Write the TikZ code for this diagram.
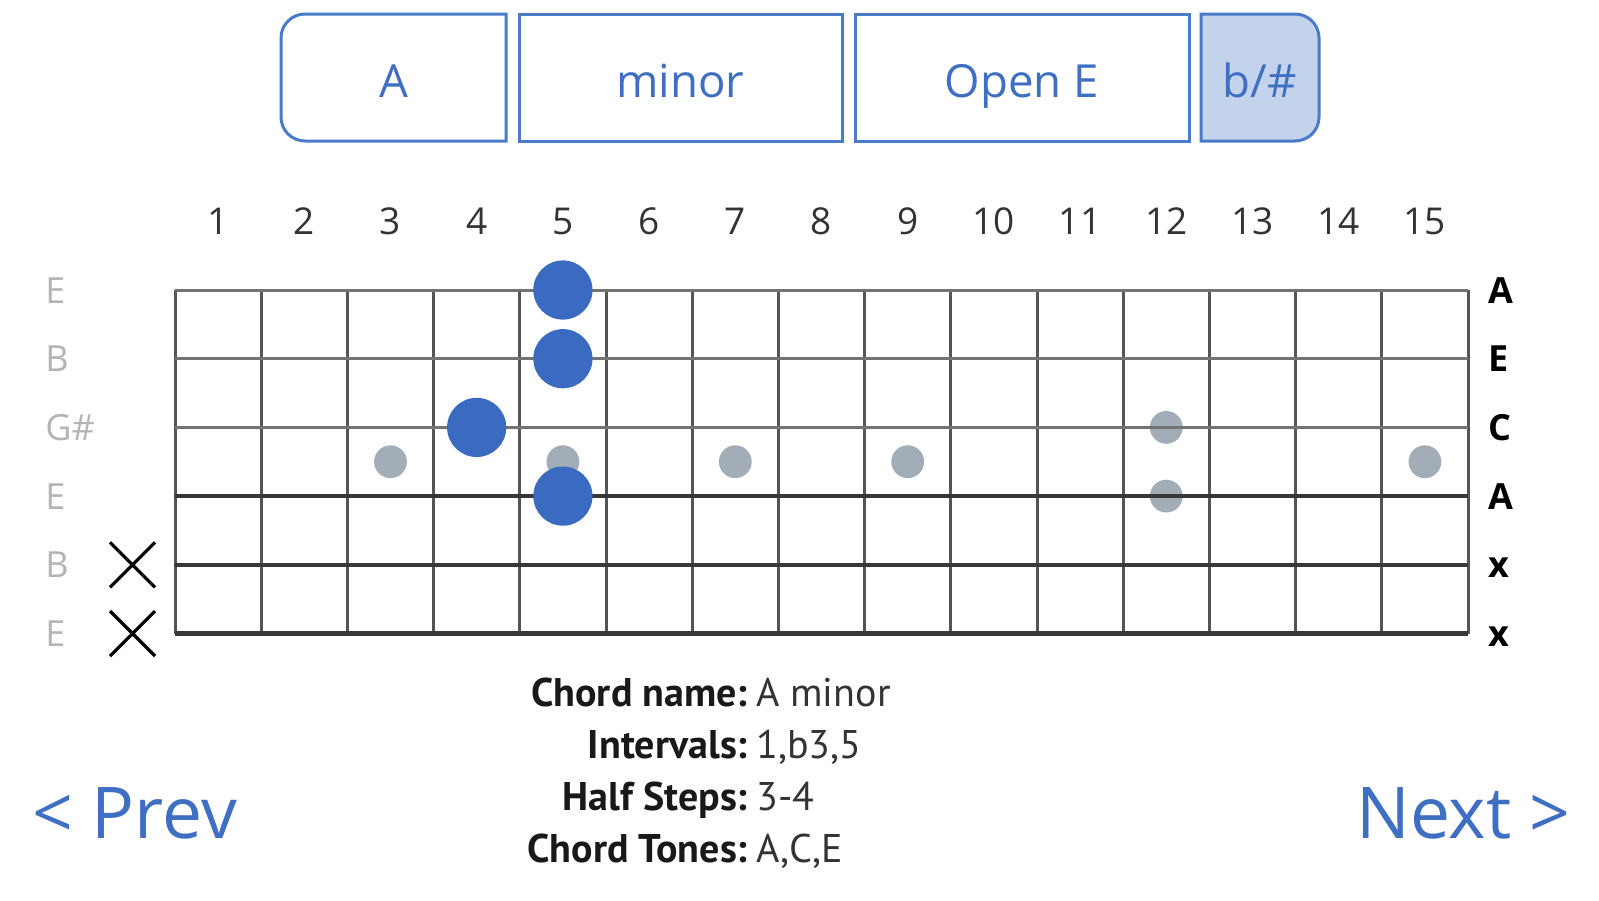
\documentclass[tikz,border=0pt]{standalone}
\usepackage{fontspec}
\setmainfont{Open Sans}
\newfontfamily\infofont{PT Sans}
\definecolor{uiblue}{HTML}{3E6FC2}
\definecolor{btnline}{HTML}{4A7BC8}
\definecolor{btnfill}{HTML}{C3D3EC}
\definecolor{dotblue}{HTML}{3A6BC0}
\definecolor{dotgray}{HTML}{A2ADB8}
\definecolor{fretline}{HTML}{555555}
\definecolor{labelgray}{HTML}{B4B4B4}
\begin{document}
\begin{tikzpicture}[x=0.5pt,y=-0.5pt,inner sep=0pt,
    btn/.style={draw=btnline,line width=1.5pt},
    btntext/.style={text=uiblue,anchor=base,font=\fontsize{22.8}{27}\selectfont},
    fret/.style={draw=fretline,line width=1.5pt},
    thinstr/.style={draw=black!55,line width=1.5pt},
    thickstr/.style={draw=black!78,line width=2.2pt},
    strl/.style={text=labelgray,anchor=base west,font=\fontsize{18}{20}\selectfont},
    strr/.style={text=black,anchor=base west,font=\fontsize{18}{20}\selectfont\bfseries},
    infolbl/.style={anchor=base east,text=black!90,font=\fontsize{20}{24}\selectfont\infofont\bfseries},
    infoval/.style={anchor=base west,text=black!80,font=\fontsize{20}{24}\selectfont\infofont},
    nav/.style={text=uiblue,font=\fontsize{35.7}{40}\selectfont}]
  \useasboundingbox (0,0) rectangle (1599,900);
  \draw[btn] (506,14) -- (305,14) to[out=180,in=90] (281,38) -- (281,117) to[out=-90,in=180] (305,141) -- (506,141) -- cycle;
  \draw[btn] (519,14) rectangle (842,141);
  \draw[btn] (855,14) rectangle (1189,141);
  \filldraw[btn,fill=btnfill] (1201,14) -- (1295,14) to[out=0,in=90] (1319,38) -- (1319,117) to[out=-90,in=0] (1295,141) -- (1201,141) -- cycle;
  \node[btntext] (key) at (393.5,97) {A};
  \node[btntext] (quality) at (680.5,97) {minor};
  \node[btntext] (tuning) at (1022,97) {Open E};
  \node[btntext] (accidental) at (1260,97) {b/\#};
  \foreach \i in {1,...,15}
    \node[text=black!80,anchor=base,font=\fontsize{18.5}{20}\selectfont] (fn\i) at ({175+86.2*(\i-0.5)},234) {\i};
  \foreach \i in {3,5,7,9,15}
    \fill[dotgray] ({175+86.2*(\i-0.5)},461.7) circle[radius=8.2pt];
  \fill[dotgray] ({175+86.2*11.5},427.4) circle[radius=8.2pt];
  \fill[dotgray] ({175+86.2*11.5},496.1) circle[radius=8.2pt];
  \foreach \i in {0,...,15}
    \draw[fret] ({175+86.2*\i},290) -- ({175+86.2*\i},633.5);
  \foreach \j in {0,1,2}
    \draw[thinstr] (175,{290+68.7*\j}) -- (1468,{290+68.7*\j});
  \foreach \j in {3,4,5}
    \draw[thickstr] (175,{290+68.7*\j}) -- (1468,{290+68.7*\j});
  \fill[dotblue] (562.9,290) circle[radius=14.8pt];
  \fill[dotblue] (562.9,358.7) circle[radius=14.8pt];
  \fill[dotblue] (476.7,427.4) circle[radius=14.8pt];
  \fill[dotblue] (562.9,496.1) circle[radius=14.8pt];
  \foreach \s/\n in {1/E,2/B,3/G\#,4/E,5/B,6/E}
    \node[strl] (ls\s) at (45,{290+68.7*(\s-1)+13}) {\n};
  \foreach \s/\n in {1/A,2/E,3/C,4/A,5/x,6/x}
    \node[strr] (rs\s) at (1488,{290+68.7*(\s-1)+13}) {\n};
  \foreach \j in {4,5}
    \draw[line width=1.6pt] (110,{290+68.7*\j-22.5}) -- (155,{290+68.7*\j+22.5})
      (110,{290+68.7*\j+22.5}) -- (155,{290+68.7*\j-22.5});
  \node[infolbl] (namel) at (748,706.5) {Chord name:};
  \node[infoval] (namev) at (756,706.5) {A minor};
  \node[infolbl] (intl) at (748,758.5) {Intervals:};
  \node[infoval] (intv) at (756,758.5) {1,b3,5};
  \node[infolbl] (stepl) at (748,810.5) {Half Steps:};
  \node[infoval] (stepv) at (756,810.5) {3-4};
  \node[infolbl] (tonel) at (748,862.5) {Chord Tones:};
  \node[infoval] (tonev) at (756,862.5) {A,C,E};
  \node[nav,anchor=base west] (prev) at (32,838) {< Prev};
  \node[nav,anchor=base east] (next) at (1571,838) {Next >};
\end{tikzpicture}
\end{document}
